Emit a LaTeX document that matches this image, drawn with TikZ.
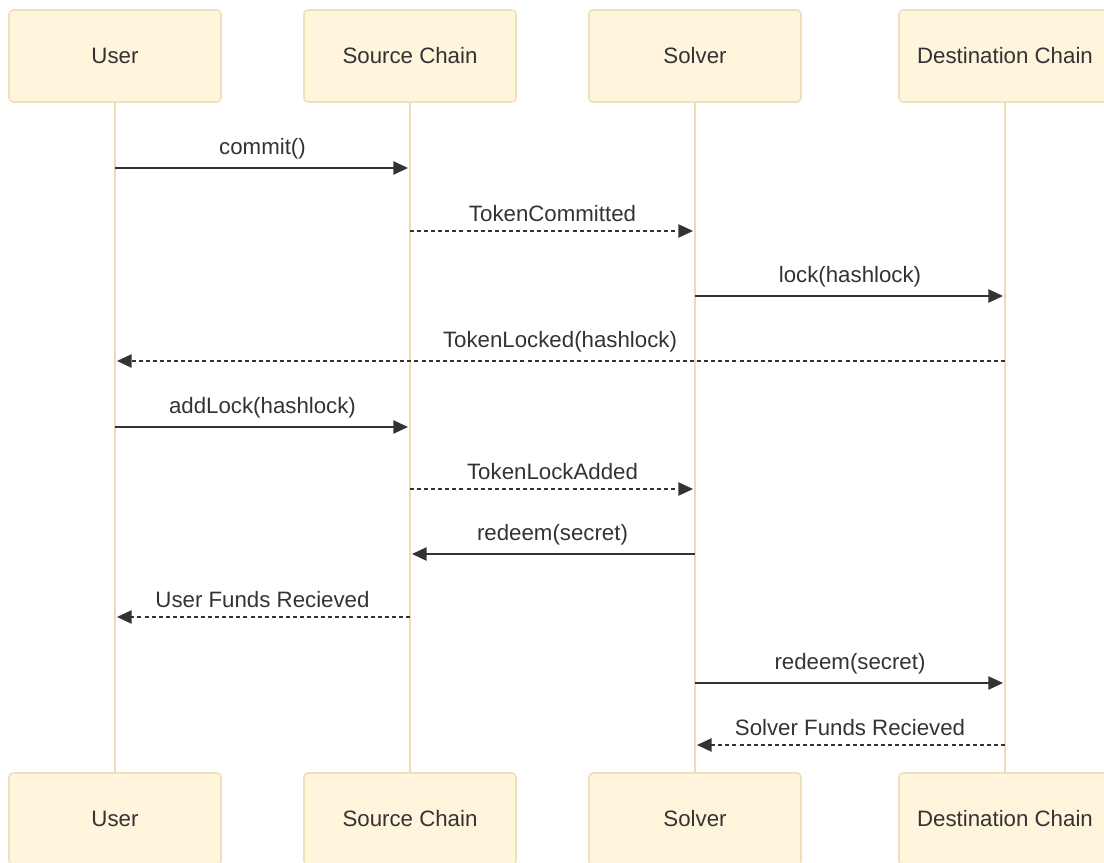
\documentclass[tikz,border=0pt]{standalone}
\usepackage{fontspec}
\setmainfont{Liberation Sans}
\usepackage{tikz}
\usetikzlibrary{arrows.meta, positioning, calc}
\definecolor{actorfill}{HTML}{FFF4DC}
\definecolor{actorline}{HTML}{F0E0BA}
\definecolor{lifeline}{HTML}{EDDBB4}
\definecolor{msgcol}{HTML}{333333}
\tikzstyle{actor} = [draw=actorline, line width=1.2pt, rectangle, rounded corners=3pt, fill=actorfill, text=msgcol, align=center, minimum height=69pt, minimum width=159pt, font=\fontsize{16.7pt}{20pt}\selectfont]
\tikzstyle{life} = [draw=lifeline, line width=1.8pt]
\tikzstyle{msg} = [draw=msgcol, line width=1.1pt, shorten >=1.5pt, -{Triangle[length=11pt,width=10pt]}]
\tikzstyle{reply} = [msg, dash pattern=on 3pt off 2.3pt]
\tikzstyle{lbl} = [text=msgcol, font=\fontsize{16.7pt}{20pt}\selectfont, above=3pt, midway]

\begin{document}
\begin{tikzpicture}[x=0.75pt, y=-0.75pt]
        \useasboundingbox (0,0) rectangle (1104,863);
        % actors, top and bottom
        \node[actor] (user) at (115,56) {User};
        \node[actor] (src) at (410,56) {Source Chain};
        \node[actor] (solver) at (695,56) {Solver};
        \node[actor] (dest) at (1005,56) {Destination Chain};
        \node[actor] (userB) at (115,819) {User};
        \node[actor] (srcB) at (410,819) {Source Chain};
        \node[actor] (solverB) at (695,819) {Solver};
        \node[actor] (destB) at (1005,819) {Destination Chain};
        \draw[life] (user.south) -- (userB.north);
        \draw[life] (src.south) -- (srcB.north);
        \draw[life] (solver.south) -- (solverB.north);
        \draw[life] (dest.south) -- (destB.north);
        % message rows
        \coordinate (m1) at (0,168);
        \coordinate (m2) at (0,231);
        \coordinate (m3) at (0,296);
        \coordinate (m4) at (0,361);
        \coordinate (m5) at (0,427);
        \coordinate (m6) at (0,489);
        \coordinate (m7) at (0,554);
        \coordinate (m8) at (0,617);
        \coordinate (m9) at (0,683);
        \coordinate (m10) at (0,745);
        \draw[msg] (user |- m1) -- node[lbl] {commit()} (src |- m1);
        \draw[reply] (src |- m2) -- node[lbl] {TokenCommitted} (solver |- m2);
        \draw[msg] (solver |- m3) -- node[lbl] {lock(hashlock)} (dest |- m3);
        \draw[reply] (dest |- m4) -- node[lbl] {TokenLocked(hashlock)} (user |- m4);
        \draw[msg] (user |- m5) -- node[lbl] {addLock(hashlock)} (src |- m5);
        \draw[reply] (src |- m6) -- node[lbl] {TokenLockAdded} (solver |- m6);
        \draw[msg] (solver |- m7) -- node[lbl] {redeem(secret)} (src |- m7);
        \draw[reply] (src |- m8) -- node[lbl] {User Funds Recieved} (user |- m8);
        \draw[msg] (solver |- m9) -- node[lbl] {redeem(secret)} (dest |- m9);
        \draw[reply] (dest |- m10) -- node[lbl] {Solver Funds Recieved} (solver |- m10);
    \end{tikzpicture}
\end{document}
